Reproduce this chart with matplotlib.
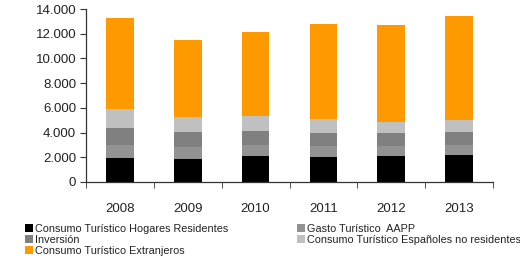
import matplotlib
matplotlib.use("Agg")
import matplotlib.pyplot as plt
from matplotlib.ticker import FuncFormatter, FixedLocator
import numpy as np

plt.rcParams['font.family'] = ['Liberation Sans', 'DejaVu Sans']

years = ["2008", "2009", "2010", "2011", "2012", "2013"]
hogares = [1940, 1860, 2130, 2020, 2100, 2185]
aapp = [1050, 970, 860, 890, 810, 805]
inversion = [1380, 1215, 1140, 1050, 1050, 1055]
espanoles = [1510, 1215, 1210, 1140, 890, 975]
extranjeros = [7360, 6230, 6800, 7680, 7850, 8410]

series = [
    ("Consumo Turístico Hogares Residentes", hogares, "#000000"),
    ("Gasto Turístico  AAPP", aapp, "#929292"),
    ("Inversión", inversion, "#808080"),
    ("Consumo Turístico Españoles no residentes", espanoles, "#c0c0c0"),
    ("Consumo Turístico Extranjeros", extranjeros, "#ff9900"),
]

fig = plt.figure(figsize=(5.2, 2.62), dpi=100)
ax = fig.add_axes([86/520, 1-182/262, (493-86)/520, (182-9)/262])

x = np.arange(len(years))
bottom = np.zeros(len(years))
handles = {}
for name, vals, col in series:
    b = ax.bar(x, vals, width=0.41, bottom=bottom, color=col, label=name, linewidth=0)
    handles[name] = b
    bottom += np.array(vals)

ax.set_xlim(-0.5, len(years) - 0.5)
ax.set_ylim(0, 14000)
ax.set_yticks(np.arange(0, 14001, 2000))
ax.yaxis.set_major_formatter(FuncFormatter(lambda v, p: f"{int(v):,}".replace(",", ".")))
ax.set_xticks(x)
ax.set_xticklabels(years)
ax.xaxis.set_minor_locator(FixedLocator(np.arange(-0.5, len(years), 1.0)))
ax.tick_params(axis='x', which='major', length=0, pad=15, labelsize=9.5)
ax.tick_params(axis='x', which='minor', length=4, direction='out', color='#333333')
ax.tick_params(axis='y', length=4, direction='out', labelsize=9.5, color='#333333', pad=3)
for lbl in ax.get_yticklabels() + ax.get_xticklabels():
    lbl.set_color('#222222')

for s in ['top', 'right']:
    ax.spines[s].set_visible(False)
for s in ['left', 'bottom']:
    ax.spines[s].set_color('#333333')
    ax.spines[s].set_linewidth(0.9)

col1 = ["Consumo Turístico Hogares Residentes", "Inversión", "Consumo Turístico Extranjeros"]
col2 = ["Gasto Turístico  AAPP", "Consumo Turístico Españoles no residentes"]
kw = dict(loc='upper left', frameon=False, fontsize=7.8,
          handlelength=0.75, handleheight=0.7, handletextpad=0.2,
          labelspacing=0.07, borderpad=0, borderaxespad=0)
leg1 = fig.legend([handles[n] for n in col1], col1, bbox_to_anchor=(25/520, 1-224/262), **kw)
leg2 = fig.legend([handles[n] for n in col2], col2, bbox_to_anchor=(297/520, 1-224/262), **kw)
for leg in (leg1, leg2):
    for t in leg.get_texts():
        t.set_color('#222222')

fig.savefig("out.png", dpi=100)
